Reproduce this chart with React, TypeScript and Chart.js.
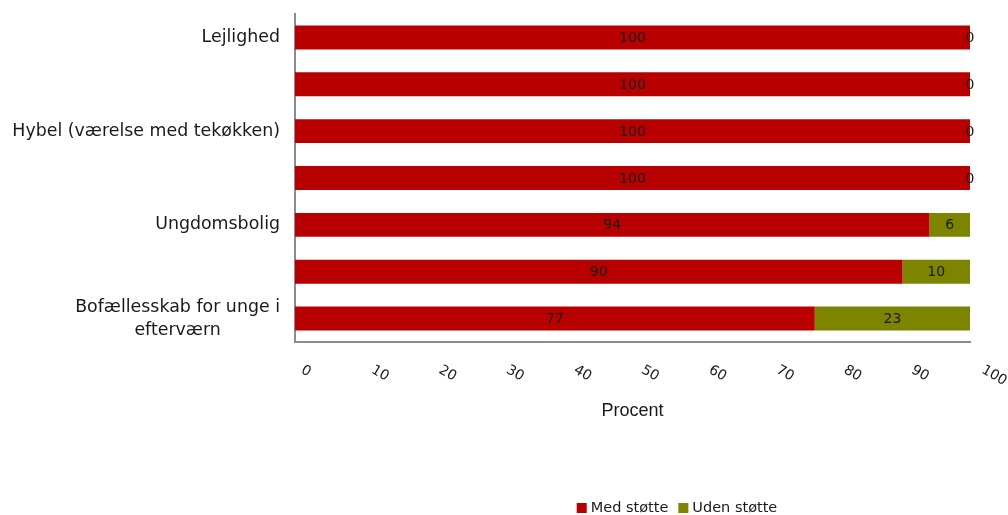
import React, { useEffect, useRef } from "react";
import { Chart, registerables } from "chart.js";

Chart.register(...registerables);

const categories: (string | string[])[] = [
  "Lejlighed",
  "",
  "Hybel (værelse med tekøkken)",
  "",
  "Ungdomsbolig",
  "",
  ["Bofællesskab for unge i", "efterværn"],
];
const medStotte = [100, 100, 100, 100, 94, 90, 77];
const udenStotte = [0, 0, 0, 0, 6, 10, 23];
const xTicks = [0, 10, 20, 30, 40, 50, 60, 70, 80, 90, 100];
const seriesNames = ["Med støtte", "Uden støtte"];
const axisTitle = "Procent";

const RED = "#b80000";
const OLIVE = "#7d8500";
const TEXT = "#1a1a1a";
const VERDANA = "'DejaVu Sans', Verdana, sans-serif";

const drawPlugin = {
  id: "customDraw",
  afterDatasetsDraw(chart: any) {
    const ctx = chart.ctx;
    ctx.save();
    ctx.font = `14px ${VERDANA}`;
    ctx.fillStyle = TEXT;
    ctx.textAlign = "center";
    ctx.textBaseline = "middle";
    chart.data.datasets.forEach((ds: any, di: number) => {
      const meta = chart.getDatasetMeta(di);
      meta.data.forEach((el: any, i: number) => {
        const v = ds.data[i];
        const cx = (el.x + el.base) / 2;
        ctx.fillText(String(v), cx, el.y + 1);
      });
    });
    ctx.restore();
  },
  afterDraw(chart: any) {
    const ctx = chart.ctx;
    const yScale = chart.scales.y;
    const xScale = chart.scales.x;
    ctx.save();
    // y labels
    ctx.font = `17.4px ${VERDANA}`;
    ctx.fillStyle = TEXT;
    ctx.textBaseline = "middle";
    const rightEdge = chart.chartArea.left - 15;
    categories.forEach((lab, i) => {
      const y = yScale.getPixelForValue(i);
      if (Array.isArray(lab)) {
        const widths = lab.map((l) => ctx.measureText(l).width);
        const maxW = Math.max(...widths);
        const cx = rightEdge - maxW / 2;
        const lh = 23;
        const start = y - ((lab.length - 1) * lh) / 2;
        ctx.textAlign = "center";
        lab.forEach((l, k) => ctx.fillText(l, cx, start + k * lh));
      } else if (lab) {
        ctx.textAlign = "right";
        ctx.fillText(lab, rightEdge, y);
      }
    });
    // x tick labels (rotated)
    ctx.font = `14px ${VERDANA}`;
    ctx.textAlign = "left";
    ctx.textBaseline = "middle";
    xTicks.forEach((t) => {
      const px = xScale.getPixelForValue(t);
      const s = String(t);
      const w = ctx.measureText(s).width;
      ctx.save();
      ctx.translate(px + 4.5 + 0.3 * w, chart.chartArea.bottom + 27);
      ctx.rotate((30 * Math.PI) / 180);
      ctx.fillText(s, 0, 0);
      ctx.restore();
    });
    // axis title
    ctx.font = `18px 'Liberation Sans', Arial, sans-serif`;
    ctx.textAlign = "center";
    ctx.fillText(axisTitle, (chart.chartArea.left + chart.chartArea.right) / 2, chart.chartArea.bottom + 69);
    // legend
    ctx.font = `14.5px ${VERDANA}`;
    ctx.textAlign = "left";
    const colors = [RED, OLIVE];
    const box = 10;
    const gap = 4;
    const itemGap = 10;
    const widths = seriesNames.map((n) => box + gap + ctx.measureText(n).width);
    const total = widths.reduce((a, b) => a + b, 0) + itemGap * (seriesNames.length - 1);
    let lx = 677 - total / 2;
    const ly = 508;
    seriesNames.forEach((n, i) => {
      ctx.fillStyle = colors[i];
      ctx.fillRect(lx, ly - box / 2, box, box);
      ctx.fillStyle = TEXT;
      ctx.fillText(n, lx + box + gap, ly);
      lx += widths[i] + itemGap;
    });
    ctx.restore();
  },
};

export default function App() {
  const ref = useRef<HTMLCanvasElement>(null);
  useEffect(() => {
    if (!ref.current) return;
    const chart = new Chart(ref.current, {
      type: "bar",
      data: {
        labels: categories.map((c) => (Array.isArray(c) ? c.join(" ") : c)),
        datasets: [
          { label: seriesNames[0], data: medStotte, backgroundColor: RED, barPercentage: 0.51, categoryPercentage: 1 },
          { label: seriesNames[1], data: udenStotte, backgroundColor: OLIVE, barPercentage: 0.51, categoryPercentage: 1 },
        ],
      },
      options: {
        indexAxis: "y",
        responsive: false,
        animation: false,
        layout: { padding: { top: 14, right: 38, left: 0, bottom: 0 } },
        plugins: { legend: { display: false }, tooltip: { enabled: false } },
        scales: {
          x: {
            stacked: true,
            min: 0,
            max: 100,
            grid: { display: false },
            border: { display: true, color: "#8c8c8c", width: 2 },
            ticks: { display: false },
            afterFit: (s: any) => {
              s.height = 173;
            },
          },
          y: {
            stacked: true,
            grid: { display: false },
            border: { display: true, color: "#8c8c8c", width: 2 },
            ticks: { display: false },
            afterFit: (s: any) => {
              s.width = 295;
            },
          },
        },
      },
      plugins: [drawPlugin],
    });
    return () => chart.destroy();
  }, []);
  return (
    <div style={{ position: "fixed", left: 0, top: 0, width: 1008, height: 515, background: "#fff" }}>
      <canvas ref={ref} width={1008} height={515} style={{ display: "block" }} />
    </div>
  );
}
